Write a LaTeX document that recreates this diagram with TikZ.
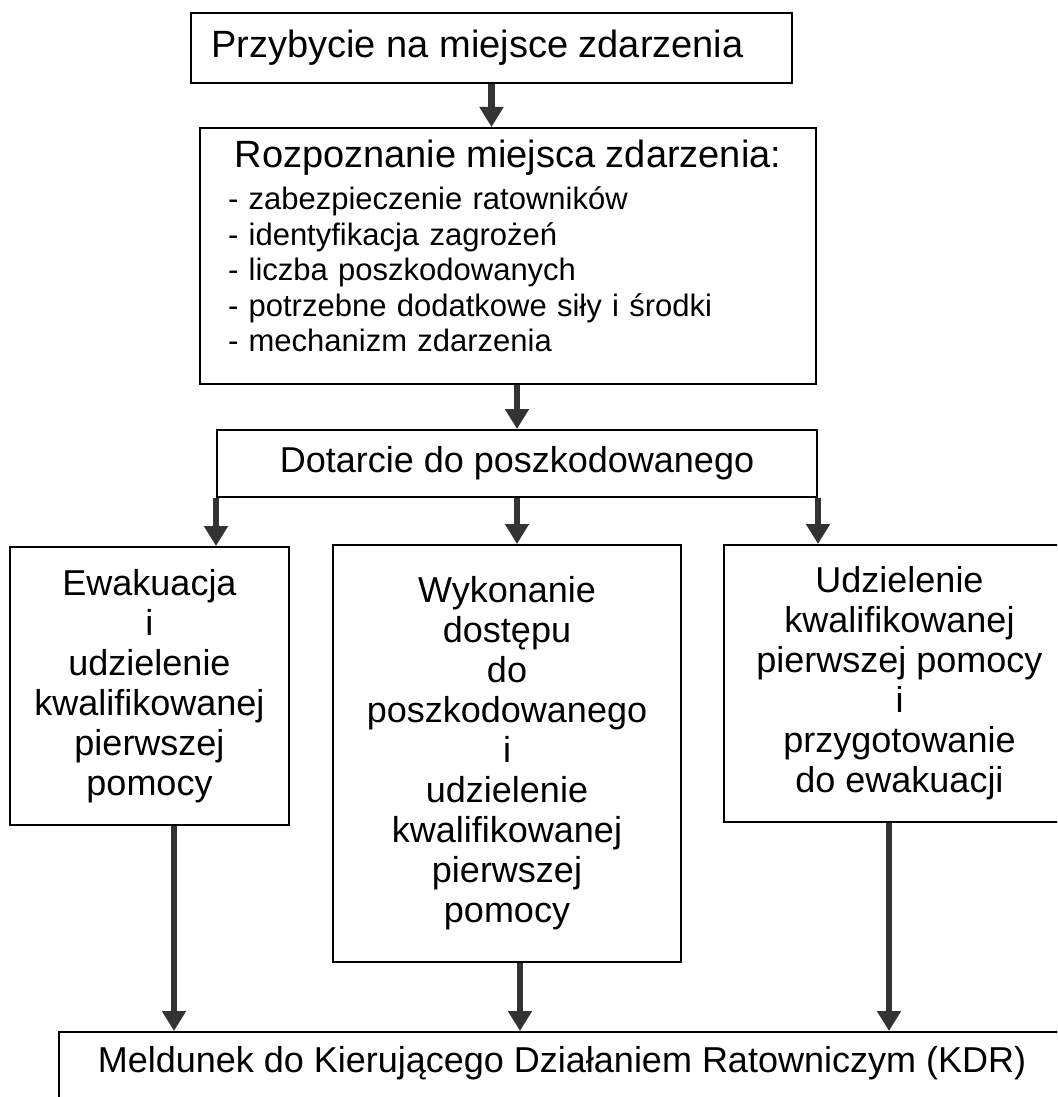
\documentclass[tikz,border=0pt]{standalone}
\usepackage{fontspec}
\setmainfont{Liberation Sans}
\usepackage{tikz}
\usetikzlibrary{arrows.meta}

\begin{document}
\begin{tikzpicture}[x=0.5pt, y=-0.5pt,
  box/.style={draw, line width=1pt, align=center, inner sep=2pt},
  duzy/.style={font=\fontsize{19}{21}\selectfont},
  sredni/.style={font=\fontsize{18}{20}\selectfont},
  strzalka/.style={line width=3.25pt, draw=black!80, -{Triangle[width=11.5pt, length=10pt]}}]

\useasboundingbox (0,0) rectangle (1057,1097);
\clip (0,0) rectangle (1057,1097);

\node[box, duzy, minimum width=300.5pt, minimum height=35pt] (przyb) at (491.5,48) {Przybycie na miejsce zdarzenia\rule{14pt}{0pt}};

\node[box, minimum width=308pt, minimum height=128pt, text width=280pt, align=left,
  font=\fontsize{15.5}{17.75}\selectfont] (rozp) at (508,256)
  {{\fontsize{19}{21}\selectfont\hfill Rozpoznanie miejsca zdarzenia:\hfill\null}\\[3.25pt]
   - zabezpieczenie ratowników\\
   - identyfikacja zagrożeń\\
   - liczba poszkodowanych\\
   - potrzebne dodatkowe siły i środki\\
   - mechanizm zdarzenia\rule[-10pt]{0pt}{10pt}};

\node[box, sredni, minimum width=300pt, minimum height=33.5pt] (dot) at (517,463.5) {Dotarcie do poszkodowanego};

\node[box, sredni, minimum width=139.5pt, minimum height=139pt] (ewak) at (149.5,686)
  {Ewakuacja\\ i\\ udzielenie\\ kwalifikowanej\\ pierwszej\\ pomocy};
\node[box, sredni, minimum width=174pt, minimum height=208.5pt] (wyk) at (507,753.5)
  {Wykonanie\\ dostępu\\ do\\ poszkodowanego\\ i\\ udzielenie\\ kwalifikowanej\\ pierwszej\\ pomocy};
\node[box, sredni, minimum width=175.5pt, minimum height=138.5pt] (udz) at (899.5,683.5)
  {Udzielenie\\ kwalifikowanej\\ pierwszej pomocy\\ i\\ przygotowanie\\ do ewakuacji};

\node[box, sredni, minimum width=503pt, minimum height=36pt, text height=13pt, text depth=9pt] (meld) at (562,1068)
  {Meldunek do Kierującego Działaniem Ratowniczym (KDR)};

\coordinate (e1) at ([xshift=12.25pt]ewak.south);
\coordinate (w1) at ([xshift=6.5pt]wyk.south);
\coordinate (u1) at ([xshift=-5.25pt]udz.south);

\draw[strzalka] (przyb.south) -- (przyb.south |- rozp.north);
\draw[strzalka] (dot.north |- rozp.south) -- (dot.north);
\draw[strzalka] (dot.south west) -- (dot.south west |- ewak.north);
\draw[strzalka] (dot.south) -- (dot.south |- wyk.north);
\draw[strzalka] (dot.south east) -- (dot.south east |- udz.north);
\draw[strzalka] (e1) -- (e1 |- meld.north);
\draw[strzalka] (w1) -- (w1 |- meld.north);
\draw[strzalka] (u1) -- (u1 |- meld.north);

\end{tikzpicture}
\end{document}
